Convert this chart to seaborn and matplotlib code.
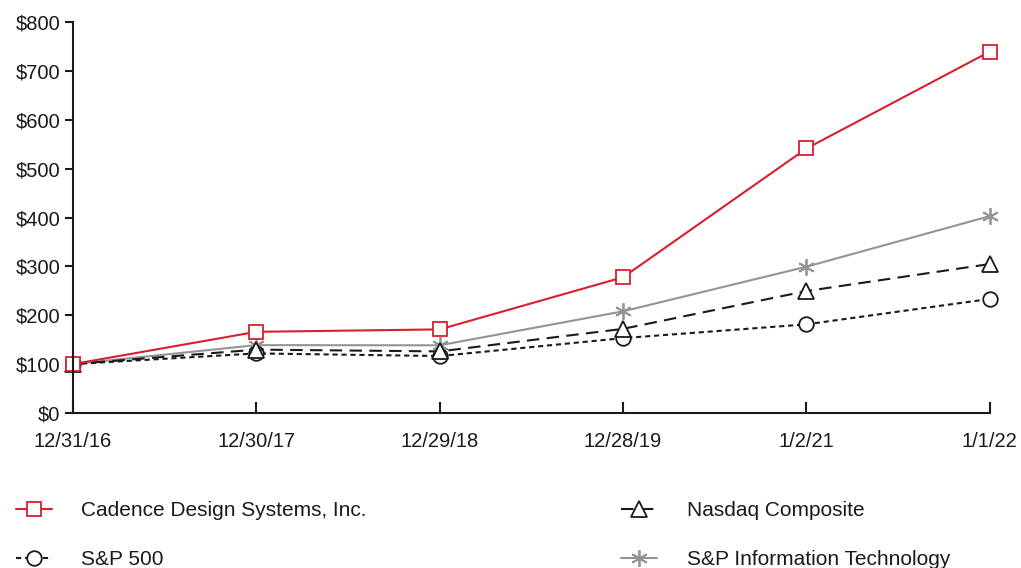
import numpy as np
import pandas as pd
import matplotlib

matplotlib.use("Agg")
import matplotlib.pyplot as plt
import seaborn as sns

# Datos del grafico de rendimiento acumulado
fechas = ["12/31/16", "12/30/17", "12/29/18", "12/28/19", "1/2/21", "1/1/22"]
cadence = [100, 166.06, 171.02, 277.83, 541.36, 739.73]
sp500 = [100, 121.83, 116.49, 153.17, 181.35, 233.41]
nasdaq = [100, 129.64, 125.96, 172.18, 249.51, 304.85]
sp_it = [100, 138.83, 138.43, 208.05, 299.37, 402.96]
y_ticks = [0, 100, 200, 300, 400, 500, 600, 700, 800]

sns.set_theme(style="white")
plt.rcParams["font.family"] = ["Liberation Sans", "DejaVu Sans"]

fig = plt.figure(figsize=(10.21, 5.68), dpi=100)
ax = fig.add_axes([0.0715, 0.273, 0.898, 0.688])

x = np.arange(len(fechas))
asterisco = (6, 2, 0)

series = [
    ("S&P Information Technology", sp_it, dict(color="#949494", linestyle="-",
        marker=asterisco, markersize=12, markeredgewidth=1.3)),
    ("S&P 500", sp500, dict(color="#1a1a1a", linestyle=(0, (2.5, 1.8)),
        marker="o", markersize=10.5, markerfacecolor="white", markeredgewidth=1.3)),
    ("Nasdaq Composite", nasdaq, dict(color="#1a1a1a", linestyle=(0, (6, 3.5)),
        marker="^", markersize=11.5, markerfacecolor="white", markeredgewidth=1.3)),
    ("Cadence Design Systems, Inc.", cadence, dict(color="#d7202e", linestyle="-",
        marker="s", markersize=10.5, markerfacecolor="white", markeredgewidth=1.3)),
]

handles = {}
for nombre, valores, estilo in series:
    sns.lineplot(x=x, y=valores, ax=ax, linewidth=1.5, clip_on=False,
                 markeredgecolor=estilo["color"], **estilo)
    handles[nombre] = ax.get_lines()[-1]

ax.set_xlim(0, len(fechas) - 1)
ax.set_ylim(0, 800)
ax.set_xticks(x)
ax.set_xticklabels(fechas)
ax.set_yticks(y_ticks)
ax.set_yticklabels([f"${v}" for v in y_ticks])

for lado in ["top", "right"]:
    ax.spines[lado].set_visible(False)
for lado in ["left", "bottom"]:
    ax.spines[lado].set_color("#1a1a1a")
    ax.spines[lado].set_linewidth(1.5)

ax.tick_params(axis="x", direction="in", length=8, width=1.5, color="#1a1a1a",
               labelsize=14.5, pad=14, bottom=True, labelcolor="#1a1a1a")
ax.tick_params(axis="y", direction="out", length=6, width=1.5, color="#1a1a1a",
               labelsize=14.5, pad=3, left=True, labelcolor="#1a1a1a")

orden = ["Cadence Design Systems, Inc.", "S&P 500", "Nasdaq Composite",
         "S&P Information Technology"]
leg = fig.legend([handles[n] for n in orden], orden, ncol=2, frameon=False,
                 loc="lower left", bbox_to_anchor=(-0.003, -0.035), fontsize=15,
                 handlelength=1.75, handletextpad=1.4, columnspacing=12.2,
                 labelspacing=1.45, markerscale=1.0)
for t in leg.get_texts():
    t.set_color("#1a1a1a")

fig.savefig("out.png", dpi=100)
plt.close(fig)
